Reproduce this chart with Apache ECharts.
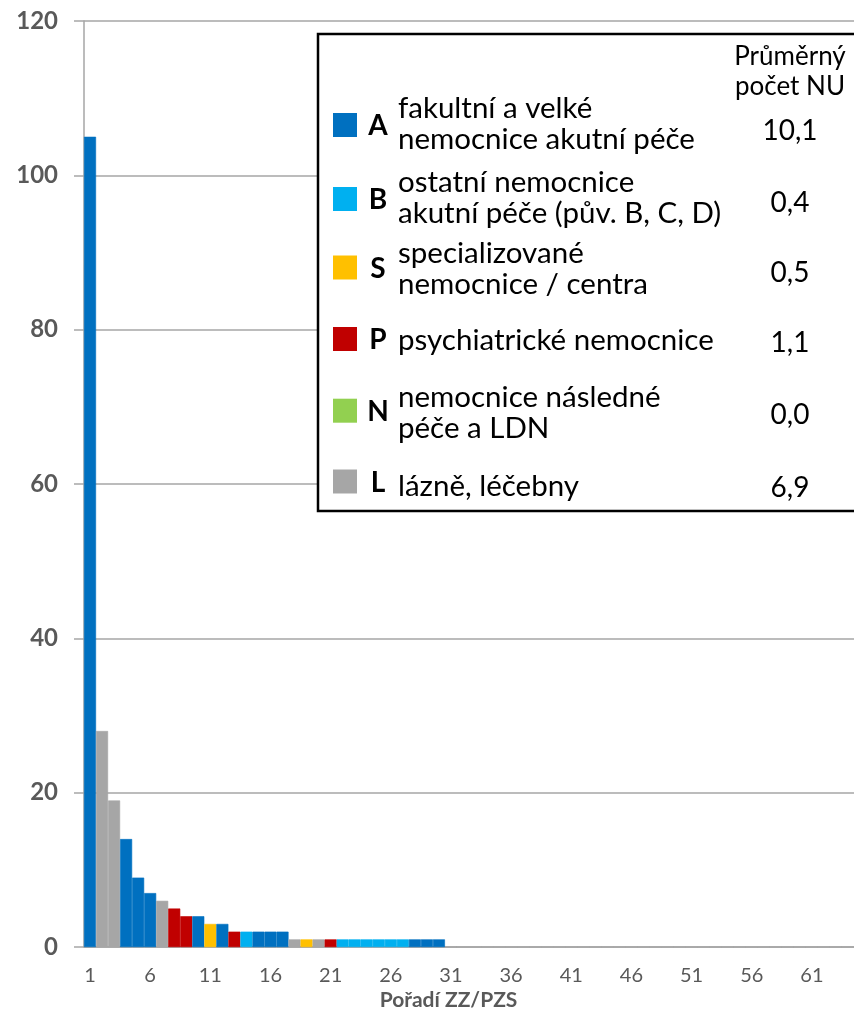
<!DOCTYPE html>
<html><head><meta charset="utf-8">
<script src="https://cdn.jsdelivr.net/npm/echarts@6/dist/echarts.min.js"></script>
<style>html,body{margin:0;padding:0;background:#fff}#c{width:854px;height:1016px}</style>
</head><body><div id="c"></div>
<script>
// ---- data ----
const categories = ['1','2','3','4','5','6','7','8','9','10','11','12','13','14','15','16','17','18','19','20',
  '21','22','23','24','25','26','27','28','29','30','31','32','33','34','35','36','37','38','39','40',
  '41','42','43','44','45','46','47','48','49','50','51','52','53','54','55','56','57','58','59','60',
  '61','62','63','64'];
const values = [105,28,19,14,9,7,6,5,4,4,3,3,2,2,2,2,2,1,1,1,
  1,1,1,1,1,1,1,1,1,1,0,0,0,0,0,0,0,0,0,0,
  0,0,0,0,0,0,0,0,0,0,0,0,0,0,0,0,0,0,0,0,
  0,0,0,0];
const types = ['A','L','L','A','A','A','L','P','P','A','S','A','P','B','A','A','A','L','S','L',
  'P','B','B','B','B','B','B','A','A','A','-','-','-','-','-','-','-','-','-','-',
  '-','-','-','-','-','-','-','-','-','-','-','-','-','-','-','-','-','-','-','-',
  '-','-','-','-'];
const legendKeys = ['A','B','S','P','N','L'];
const legendLabels = ['fakultní a velké\nnemocnice akutní péče','ostatní nemocnice\nakutní péče (pův. B, C, D)',
  'specializované\nnemocnice / centra','psychiatrické nemocnice','nemocnice následné\npéče a LDN','lázně, léčebny'];
const legendValues = ['10,1','0,4','0,5','1,1','0,0','6,9'];
const legendHeader = 'Průměrný\npočet NU';
const axisTitle = 'Pořadí ZZ/PZS';

// ---- styles ----
const colorMap = {A:'#0070C0',B:'#00B0F0',S:'#FFC000',P:'#C00000',N:'#92D050',L:'#A6A6A6','-':'#A6A6A6'};
const FONT = 'Lato, "Open Sans", sans-serif';
const GRAY = '#a6a6a6';
const TXT = '#595959';
const rowSquareY = [125,199,267.5,339,410.7,481.5];
const rowTextY = [124,198,268.5,340,412.5,486];
const rowValY = [131,203,273,343,415,488];

const graphics = [{
  type:'rect', z:100, shape:{x:318,y:34,width:600,height:477},
  style:{fill:'#fff',stroke:'#000',lineWidth:2.5}
},{
  type:'text', z:101, x:790, y:72,
  style:{text:legendHeader,font:'26px '+FONT,fill:'#000',align:'center',verticalAlign:'middle',lineHeight:30}
}];
legendKeys.forEach((k,i)=>{
  graphics.push({type:'rect',z:101,shape:{x:333,y:rowSquareY[i]-12,width:24,height:24},style:{fill:colorMap[k]}});
  graphics.push({type:'text',z:101,x:378,y:rowSquareY[i]+1,style:{text:k,font:'bold 28px '+FONT,fill:'#000',align:'center',verticalAlign:'middle'}});
  graphics.push({type:'text',z:101,x:398,y:rowTextY[i],style:{text:legendLabels[i],font:'29.5px '+FONT,fill:'#000',align:'left',verticalAlign:'middle',lineHeight:31}});
  graphics.push({type:'text',z:101,x:790,y:rowValY[i],style:{text:legendValues[i],font:'28px '+FONT,fill:'#000',align:'center',verticalAlign:'middle'}});
});

const chart = echarts.init(document.getElementById('c'));
chart.setOption({
  animation:false,
  backgroundColor:'#fff',
  grid:{left:84,right:-1,top:21,bottom:63,containLabel:false},
  xAxis:{
    type:'category', data:categories, boundaryGap:true,
    name:axisTitle, nameLocation:'middle', nameGap:39,
    nameTextStyle:{fontFamily:FONT,fontWeight:'bold',fontSize:21,color:TXT,padding:[0,41,0,0]},
    axisLine:{lineStyle:{color:GRAY,width:1.5}},
    axisTick:{interval:0,length:6,lineStyle:{color:GRAY,width:1.5}},
    axisLabel:{interval:4,fontFamily:FONT,fontSize:20,color:TXT,margin:18}
  },
  yAxis:{
    type:'value', min:0, max:120, interval:20,
    axisLine:{show:true,lineStyle:{color:GRAY,width:1.5}},
    axisTick:{show:true,length:10,lineStyle:{color:GRAY,width:1.5}},
    splitLine:{lineStyle:{color:GRAY,width:1.5}},
    axisLabel:{fontFamily:FONT,fontWeight:'bold',fontSize:24,color:TXT,margin:26}
  },
  series:[{
    type:'bar', barCategoryGap:'0%',
    data: values.map((v,i)=>({value:v,itemStyle:{color:colorMap[types[i]],borderColor:colorMap[types[i]],borderWidth:0.6}}))
  }],
  graphic: graphics
});
</script></body></html>
